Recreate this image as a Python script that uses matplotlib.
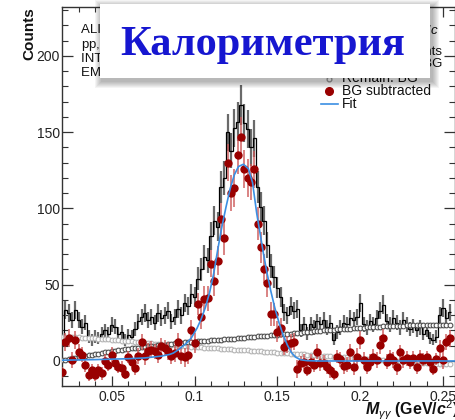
import numpy as np
import matplotlib
matplotlib.use("Agg")
import matplotlib.pyplot as plt
from matplotlib.patches import Rectangle

plt.rcParams['font.family'] = ['Liberation Sans', 'DejaVu Sans']
plt.rcParams['mathtext.fontset'] = 'custom'
plt.rcParams['mathtext.rm'] = 'Liberation Sans'
plt.rcParams['mathtext.it'] = 'Liberation Sans:italic'
plt.rcParams['mathtext.bf'] = 'Liberation Sans:bold'
plt.rcParams['mathtext.bfit'] = 'Liberation Sans:italic:bold'

# --- invariant mass spectrum, 2 MeV bins starting at 20 MeV ---
MASS_FIRST = 0.020
BIN_W = 0.002

# same-event counts
counts = np.array([
    14, 33.5, 31.5, 27, 33.5,
    27, 22.6, 25, 16, 13.8,
    16, 15, 18, 20, 18,
    23.7, 22.6, 18, 19, 13.8,
    17, 16, 21, 26, 29,
    31.5, 27, 29, 25, 31.5,
    28, 30, 33, 26, 29,
    34, 30, 38, 36, 44,
    42, 54, 60, 68, 66,
    82, 92, 88, 114, 120,
    150, 138, 153, 157, 168,
    156, 152, 140, 146, 114,
    101, 92, 76, 62, 55,
    48, 42, 32, 30, 36,
    33, 34, 20, 24, 18,
    24, 22, 26, 24, 27,
    22, 25, 14, 19, 22,
    25, 24, 28, 27, 29,
    38, 24, 22, 26, 24,
    28, 33, 37, 26, 24,
    28, 25, 22, 27, 24,
    21, 23, 20, 22, 18,
    20, 15, 14, 16, 30,
    35, 28, 32,
])

# scaled mixed-event background
mixed_bg = np.array([
    0.5, 0.9, 1.3, 1.7, 2.1,
    2.5, 2.9, 3.3, 3.7, 4.1,
    4.5, 4.9, 5.3, 5.7, 6.1,
    6.5, 6.8, 7.1, 7.4, 7.7,
    8.0, 8.2, 8.5, 8.7, 9.0,
    9.2, 9.5, 9.7, 10.0, 10.2,
    10.5, 10.8, 11.0, 11.3, 11.5,
    11.8, 12.0, 12.2, 12.3, 12.5,
    12.7, 12.9, 13.0, 13.2, 13.3,
    13.5, 13.7, 13.8, 14.0, 14.1,
    14.3, 14.5, 14.7, 14.9, 15.1,
    15.3, 15.5, 15.7, 15.9, 16.1,
    16.3, 16.5, 16.7, 16.8, 17.0,
    17.2, 17.4, 17.6, 17.8, 18.0,
    18.2, 18.4, 18.6, 18.8, 19.0,
    19.2, 19.4, 19.6, 19.8, 20.0,
    20.2, 20.4, 20.5, 20.7, 20.8,
    21.0, 21.2, 21.3, 21.5, 21.6,
    21.8, 21.9, 22.1, 22.2, 22.4,
    22.5, 22.6, 22.7, 22.8, 22.9,
    23.0, 23.1, 23.2, 23.2, 23.3,
    23.4, 23.5, 23.5, 23.6, 23.6,
    23.7, 23.7, 23.7, 23.8, 23.8,
    23.8, 23.8, 23.9,
])

# remaining (residual) background
remain_bg = np.array([
    16.0, 15.9, 15.8, 15.7, 15.6,
    15.5, 15.4, 15.2, 15.1, 14.9,
    14.8, 14.6, 14.5, 14.3, 14.2,
    14.0, 13.8, 13.6, 13.4, 13.2,
    13.0, 12.8, 12.6, 12.4, 12.2,
    12.0, 11.8, 11.6, 11.4, 11.2,
    11.0, 10.8, 10.6, 10.4, 10.2,
    10.0, 9.8, 9.7, 9.5, 9.4,
    9.2, 9.1, 8.9, 8.8, 8.6,
    8.5, 8.4, 8.2, 8.1, 7.9,
    7.8, 7.6, 7.5, 7.3, 7.2,
    7.0, 6.9, 6.7, 6.6, 6.4,
    6.3, 6.1, 6.0, 5.8, 5.7,
    5.5, 5.4, 5.2, 5.1, 4.9,
    4.8, 4.6, 4.5, 4.3, 4.2,
    4.0, 3.8, 3.7, 3.5, 3.4,
    3.2, 3.1, 2.9, 2.8, 2.6,
    2.5, 2.4, 2.2, 2.1, 1.9,
    1.8, 1.6, 1.5, 1.3, 1.2,
    1.0, 0.9, 0.7, 0.6, 0.4,
    0.3, 0.1, 0.0, -0.2, -0.3,
    -0.5, -0.7, -0.8, -1.0, -1.1,
    -1.3, -1.4, -1.6, -1.7, -1.9,
    -2.0, -2.1, -2.3,
])

# background-subtracted signal
bg_subtracted = np.array([
    -7.5, 12.3, 15.1, 0.9, 13.6,
    5.7, 4.2, -2.4, -9.0, -5.7,
    -9.0, -5.7, -7.9, -0.2, -2.4,
    4.2, -1.3, -3.9, -4.6, -8.3,
    2.6, -0.9, -4.6, 3.1, 12.3,
    3.1, 6.4, 7.5, 6.4, 4.2,
    9.7, 8.6, 6.4, 3.1, 5.0,
    12.3, 3.5, 2.5, 4.2, 20.0,
    11.6, 37.5, 29.0, 40.8, 41.0,
    63.8, 52.5, 65.8, 92.8, 80.7,
    130.0, 110.0, 113.6, 135.0, 147.0,
    125.7, 120.0, 117.5, 125.7, 90.0,
    74.6, 60.4, 51.0, 30.5, 30.5,
    19.3, 21.5, 9.4, 11.0, 11.6,
    12.7, -5.5, -1.5, -0.4, -5.9,
    -0.4, -2.6, 6.1, -1.5, -1.0,
    -4.0, -5.9, -8.6, 2.9, 1.0,
    -3.3, -2.6, 6.1, -4.0, 2.9,
    13.8, 0.7, -3.7, -0.4, 2.9,
    0.7, 10.5, 14.9, -0.4, 2.4,
    0.7, -4.0, 6.1, 0.7, 1.8,
    -0.4, 1.8, -4.0, 2.4, 0.7,
    2.4, -0.4, -5.5, 1.5, 8.3,
    0.7, 12.3, 14.9,
])

# fitted peak shape
fit_mass = [0.020, 0.030, 0.040, 0.050, 0.060, 0.070, 0.080, 0.085, 0.0872,
            0.090, 0.0945, 0.098, 0.1015, 0.104, 0.1065, 0.109, 0.1115, 0.114,
            0.1165, 0.119, 0.1215, 0.124, 0.1265, 0.1295, 0.1325, 0.135,
            0.1375, 0.1395, 0.1415, 0.1435, 0.146, 0.1485, 0.151, 0.1535,
            0.156, 0.1585, 0.161, 0.164, 0.168, 0.175, 0.2572]
fit_counts = [0.5, 0.7, 0.9, 1.2, 1.5, 2.0, 3.2, 4.3, 5.2,
              7.2, 11.0, 15.0, 21.5, 27.5, 35.0, 44.5, 57.0, 73.0,
              88.0, 101.0, 113.0, 122.0, 127.5, 129.0, 126.0, 117.0,
              97.0, 84.0, 71.0, 59.0, 46.0, 34.6, 25.0, 17.0,
              10.5, 5.5, 2.5, 0.8, 0.2, 0.0, 0.0]

centers = MASS_FIRST + BIN_W * np.arange(len(counts))
edges = np.append(centers - BIN_W / 2, centers[-1] + BIN_W / 2)
stat_err = np.sqrt(counts)

W, H = 455, 420
fig = plt.figure(figsize=(W / 100, H / 100), dpi=100)
ax = fig.add_axes([62 / W, 34 / H, (W - 62) / W, (386 - 7) / H])

# raw spectrum: steps + stat. errors
ax.errorbar(centers, counts, yerr=stat_err, fmt='none', ecolor='#6a6a6a',
            elinewidth=1.6, zorder=2)
ax.stairs(counts, edges, color='black', lw=0.9, baseline=None, zorder=2)

# background components
ax.plot(centers, remain_bg, 'o', ms=3.4, mfc='white', mec='#b4b4b4',
        mew=0.8, zorder=3)
ax.plot(centers, mixed_bg, 'o', ms=3.4, mfc='white', mec='#505050',
        mew=0.8, zorder=3)

# signal after subtraction
ax.errorbar(centers, bg_subtracted, yerr=stat_err, fmt='none',
            ecolor='#cc5555', elinewidth=1.2, alpha=0.85, zorder=4)
ax.plot(centers, bg_subtracted, 'o', ms=5, color='#990000', zorder=5)

ax.plot(fit_mass, fit_counts, color='#3b8fe3', lw=1.2, zorder=6)

ax.set_xlim(0.02, 0.2572)
ax.set_ylim(-16.4, 232.1)
ax.set_xticks([0.05, 0.1, 0.15, 0.2, 0.25])
ax.set_xticklabels(['0.05', '0.1', '0.15', '0.2', '0.25'])
ax.set_xticks(np.arange(0.03, 0.26, 0.01), minor=True)
ax.set_yticks([0, 50, 100, 150, 200])
ax.set_yticks(np.arange(-10, 231, 10), minor=True)
ax.tick_params(which='both', direction='in', top=True, right=True,
               colors='#333333', labelcolor='#222222', labelsize=10)
ax.tick_params(axis='x', which='major', length=7.5, width=0.9, pad=3)
ax.tick_params(axis='x', which='minor', length=3.8, width=0.8)
ax.tick_params(axis='y', which='major', length=8, width=0.9, pad=1.5)
ax.tick_params(axis='y', which='minor', length=4.3, width=0.8)
for sp in ax.spines.values():
    sp.set_color('#333333')
    sp.set_linewidth(1.0)

fig.text(29 / W, 1 - 7 / H, 'Counts', rotation=90, ha='center', va='top',
         fontsize=11, fontweight='bold', color='#111111')
fig.text(459 / W, 1 - 410 / H,
         r'$\mathbfit{M}_{\gamma\gamma}$ (GeV/$\mathbfit{c}^{2}$)',
         ha='right', va='center', fontsize=11.5, fontweight='bold',
         color='#111111')


def ay(ypx):
    # pixel row from the top -> axes fraction
    return (386 - ypx) / 379


def ax_x(xpx):
    return (xpx - 62) / 393


tr = ax.transAxes

# info block
info_lines = ['ALICE Preliminary', r'pp, $\sqrt{s}$ = 13 TeV',
              'INT7 trigger', 'EMCal clusters']
for txt, yp in zip(info_lines, [30, 44.5, 59, 73.5]):
    ax.text(ax_x(81), ay(yp), txt, fontsize=9.5, va='center', ha='left',
            color='#111111', transform=tr)
ax.text(ax_x(439), ay(31), r'1.0 < $p_{\rm T}$ < 2.0 GeV/$c$', fontsize=9.5,
        va='center', ha='right', color='#111111', transform=tr)
ax.text(ax_x(442), ay(52), 'Real events', fontsize=9.5, va='center',
        ha='right', color='#111111', transform=tr)
ax.text(ax_x(442), ay(64), 'Mixed event BG', fontsize=9.5, va='center',
        ha='right', color='#111111', transform=tr)

# legend keys
key_x, txt_x = ax_x(329), ax_x(342)
ax.plot([key_x], [ay(79)], 'o', ms=3.4, mfc='white', mec='#a0a0a0', mew=1.0,
        transform=tr, clip_on=False)
ax.plot([key_x], [ay(91)], 'o', ms=5.5, color='#990000',
        transform=tr, clip_on=False)
ax.plot([ax_x(321), ax_x(338)], [ay(104), ay(104)], color='#3b8fe3', lw=1.2,
        transform=tr, clip_on=False)
for txt, yp in zip(['Remain. BG', 'BG subtracted', 'Fit'], [78, 91, 104]):
    ax.text(txt_x, ay(yp), txt, fontsize=10, va='center', ha='left',
            color='#111111', transform=tr)

# title card with soft drop shadow
bx0, by0, bw, bh = 100 / W, 1 - 78 / H, 330 / W, 74 / H
for k in range(7):
    g = 0.6 + 1.0 * k
    fig.patches.append(Rectangle(
        (bx0 + (2 - g) / W, by0 - (3 + g) / H), bw + 2 * g / W, bh + 2 * g / H,
        transform=fig.transFigure, facecolor='black', edgecolor='none',
        alpha=0.045, zorder=10))
fig.patches.append(Rectangle((bx0, by0), bw, bh, transform=fig.transFigure,
                             facecolor='white', edgecolor='none', zorder=11))
fig.text(bx0 + bw / 2 - 2 / W, 1 - 55 / H, 'Калориметрия',
         family=['Liberation Serif', 'DejaVu Serif'], fontweight='bold',
         fontsize=30.5, color='#1616d0', ha='center', va='baseline',
         zorder=12)

fig.savefig('out.png', dpi=100)
